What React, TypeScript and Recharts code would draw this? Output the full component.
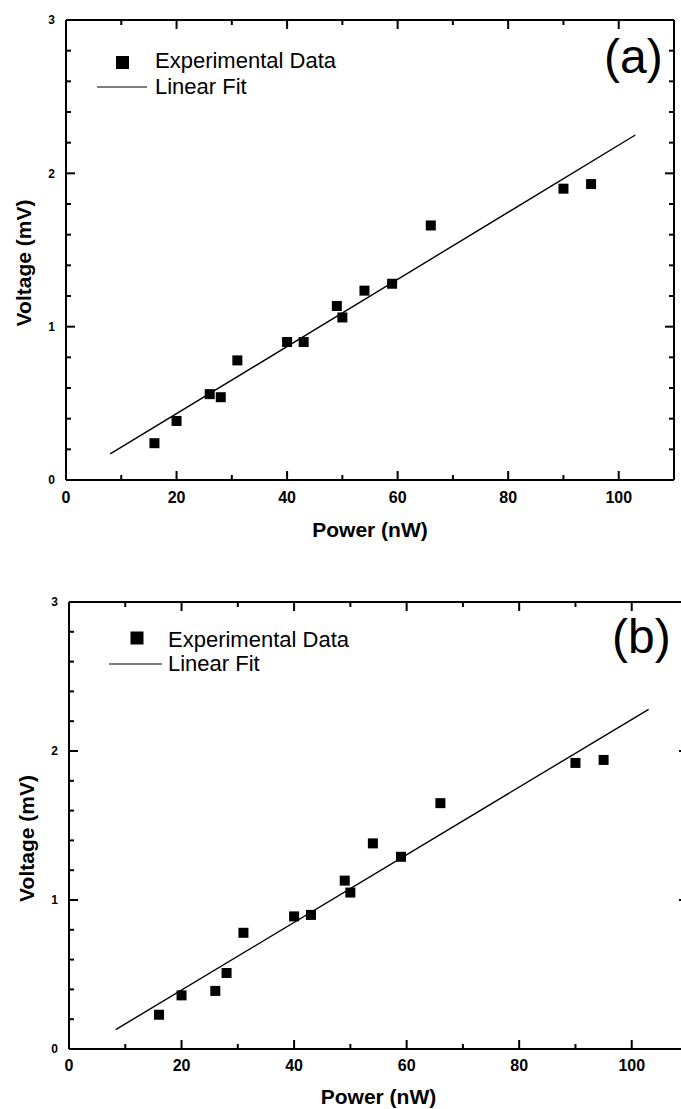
import React from 'react';
import { ScatterChart, Scatter, XAxis, YAxis } from 'recharts';

const FONT = '"Liberation Sans", Arial, Helvetica, sans-serif';

// Panel (a)
const powerA = [16, 20, 26, 28, 31, 40, 43, 49, 50, 54, 59, 66, 90, 95];
const voltageA = [0.24, 0.385, 0.56, 0.54, 0.78, 0.9, 0.9, 1.135, 1.06, 1.235, 1.28, 1.66, 1.9, 1.93];
const fitPowerA = [8, 103];
const fitVoltageA = [0.17, 2.25];

// Panel (b)
const powerB = [16, 20, 26, 28, 31, 40, 43, 49, 50, 54, 59, 66, 90, 95];
const voltageB = [0.23, 0.36, 0.39, 0.51, 0.78, 0.89, 0.9, 1.13, 1.05, 1.38, 1.29, 1.65, 1.92, 1.94];
const fitPowerB = [8.3, 103];
const fitVoltageB = [0.13, 2.28];

// Ticks
const xTickValues = [0, 10, 20, 30, 40, 50, 60, 70, 80, 90, 100];
const xLabelValues = [0, 20, 40, 60, 80, 100];
const yTickValues = [0, 0.2, 0.4, 0.6, 0.8, 1, 1.2, 1.4, 1.6, 1.8, 2, 2.2, 2.4, 2.6, 2.8, 3];
const yLabelValues = [0, 1, 2, 3];
const xDomain = [0, 110];
const yDomain = [0, 3];

const legendLabels = ['Experimental Data', 'Linear Fit'];
const xTitle = 'Power (nW)';
const yTitle = 'Voltage (mV)';

const toPoints = (xs: number[], ys: number[]) => xs.map((x, i) => ({ x, y: ys[i] }));

const MAJOR = 9;
const MINOR = 5;
const TICK_W = 2;
const isMajorX = (v: number) => xLabelValues.includes(v);
const isMajorY = (v: number) => yLabelValues.some((l) => Math.abs(l - v) < 1e-6);
const axisStyle = { stroke: '#000', strokeWidth: 2 };

const BottomTick = (p: any) => {
  const v = p.payload.value;
  const major = isMajorX(v);
  const x = Number(p.x);
  const y = Number(p.y);
  return (
    <g>
      <line x1={x} x2={x} y1={y} y2={y - (major ? MAJOR : MINOR)} stroke="#000" strokeWidth={TICK_W} />
      {major && (
        <text x={x} y={y + p.labelDy} textAnchor="middle" fontSize={16} fontWeight="bold" fontFamily={FONT} fill="#000">
          {v}
        </text>
      )}
    </g>
  );
};

const TopTick = (p: any) => {
  const v = p.payload.value;
  const major = isMajorX(v);
  const x = Number(p.x);
  const y = Number(p.y);
  return <line x1={x} x2={x} y1={y} y2={y + (major ? MAJOR : MINOR)} stroke="#000" strokeWidth={TICK_W} />;
};

const LeftTick = (p: any) => {
  const v = p.payload.value;
  const major = isMajorY(v);
  const x = Number(p.x);
  const y = Number(p.y);
  return (
    <g>
      <line x1={x} x2={x + (major ? MAJOR : MINOR)} y1={y} y2={y} stroke="#000" strokeWidth={TICK_W} />
      {major && (
        <text x={x - 11} y={y} dy="0.36em" textAnchor="end" fontSize={12} fontWeight="bold" fontFamily={FONT} fill="#000">
          {Math.round(v)}
        </text>
      )}
    </g>
  );
};

const RightTick = (p: any) => {
  const v = p.payload.value;
  const major = isMajorY(v);
  const x = Number(p.x);
  const y = Number(p.y);
  return <line x1={x} x2={x - (major ? MAJOR : MINOR)} y1={y} y2={y} stroke="#000" strokeWidth={TICK_W} />;
};

const Square = (p: any) => {
  if (p.cx == null || p.cy == null) return <g />;
  return <rect x={p.cx - 5} y={p.cy - 5} width={10} height={10} fill="#000" />;
};

const NoShape = () => <g />;

type PanelProps = {
  top: number;
  width: number;
  height: number;
  margin: { top: number; right: number; bottom: number; left: number };
  yAxisWidth: number;
  xAxisHeight: number;
  points: { x: number; y: number }[];
  fit: { x: number; y: number }[];
  xLabelDy: number;
  xTitleDy: number;
  yTitleX: number;
  yTitleShift: number;
};

function Panel(props: PanelProps) {
  const { top, width, height, margin, yAxisWidth, xAxisHeight, points, fit, xLabelDy, xTitleDy, yTitleX, yTitleShift } = props;
  return (
    <div style={{ position: 'absolute', left: 0, top }}>
      <ScatterChart width={width} height={height} margin={margin}>
        <XAxis
          xAxisId="bottom"
          type="number"
          dataKey="x"
          domain={xDomain}
          ticks={xTickValues}
          interval={0}
          tickSize={0}
          tickMargin={0}
          tickLine={false}
          axisLine={axisStyle}
          height={xAxisHeight}
          allowDataOverflow
          tick={(p: any) => <BottomTick {...p} labelDy={xLabelDy} />}
          label={{
            content: (lp: any) => {
              const vb = lp.viewBox || {};
              return (
                <text x={vb.x + vb.width / 2} y={vb.y + xTitleDy} textAnchor="middle" fontSize={21} fontWeight="bold" fontFamily={FONT} fill="#000">
                  {xTitle}
                </text>
              );
            },
          }}
        />
        <XAxis
          xAxisId="top"
          orientation="top"
          type="number"
          dataKey="x"
          domain={xDomain}
          ticks={xTickValues}
          interval={0}
          tickSize={0}
          tickMargin={0}
          tickLine={false}
          axisLine={axisStyle}
          height={1}
          allowDataOverflow
          tick={(p: any) => <TopTick {...p} />}
        />
        <YAxis
          yAxisId="left"
          type="number"
          dataKey="y"
          domain={yDomain}
          ticks={yTickValues}
          interval={0}
          tickSize={0}
          tickMargin={0}
          tickLine={false}
          axisLine={axisStyle}
          width={yAxisWidth}
          allowDataOverflow
          tick={(p: any) => <LeftTick {...p} />}
          label={{
            content: (lp: any) => {
              const vb = lp.viewBox || {};
              const cx = yTitleX;
              const cy = vb.y + vb.height / 2 + yTitleShift;
              return (
                <text
                  x={cx}
                  y={cy}
                  transform={`rotate(-90 ${cx} ${cy})`}
                  textAnchor="middle"
                  dy="0.36em"
                  fontSize={21}
                  fontWeight="bold"
                  fontFamily={FONT}
                  fill="#000"
                >
                  {yTitle}
                </text>
              );
            },
          }}
        />
        <YAxis
          yAxisId="right"
          orientation="right"
          type="number"
          dataKey="y"
          domain={yDomain}
          ticks={yTickValues}
          interval={0}
          tickSize={0}
          tickMargin={0}
          tickLine={false}
          axisLine={axisStyle}
          width={1}
          allowDataOverflow
          tick={(p: any) => <RightTick {...p} />}
        />
        <Scatter
          data={fit}
          xAxisId="top"
          yAxisId="right"
          line={{ stroke: '#000', strokeWidth: 1.4 }}
          lineType="joint"
          shape={NoShape}
          isAnimationActive={false}
        />
        <Scatter data={points} xAxisId="bottom" yAxisId="left" shape={Square} isAnimationActive={false} />
      </ScatterChart>
    </div>
  );
}

function LegendOverlay() {
  const t = { fontFamily: FONT, fill: '#000' };
  return (
    <svg width={681} height={1109} style={{ position: 'absolute', left: 0, top: 0, pointerEvents: 'none' }}>
      {/* panel (a) */}
      <rect x={116} y={56} width={13} height={13} fill="#000" />
      <text x={155} y={68} fontSize={22} {...t}>{legendLabels[0]}</text>
      <line x1={97} x2={147} y1={87} y2={87} stroke="#000" strokeWidth={1.2} />
      <text x={155} y={94} fontSize={22} {...t}>{legendLabels[1]}</text>
      <text x={604} y={73} fontSize={48} {...t}>(a)</text>
      {/* panel (b) */}
      <rect x={130.5} y={631.5} width={13} height={13} fill="#000" />
      <text x={168} y={647} fontSize={22} {...t}>{legendLabels[0]}</text>
      <line x1={109} x2={162} y1={664} y2={664} stroke="#000" strokeWidth={1.2} />
      <text x={168} y={671} fontSize={22} {...t}>{legendLabels[1]}</text>
      <text x={612} y={653} fontSize={48} {...t}>(b)</text>
    </svg>
  );
}

export default function App() {
  return (
    <div style={{ position: 'absolute', left: 0, top: 0, width: 681, height: 1109, overflow: 'hidden', background: '#fff' }}>
      <Panel
        top={0}
        width={681}
        height={560}
        margin={{ top: 19, right: 6, bottom: 0, left: 0 }}
        yAxisWidth={66}
        xAxisHeight={80}
        points={toPoints(powerA, voltageA)}
        fit={toPoints(fitPowerA, fitVoltageA)}
        xLabelDy={23}
        xTitleDy={57}
        yTitleX={23}
        yTitleShift={13}
      />
      <Panel
        top={560}
        width={700}
        height={549}
        margin={{ top: 41, right: 11, bottom: 0, left: 0 }}
        yAxisWidth={69}
        xAxisHeight={60}
        points={toPoints(powerB, voltageB)}
        fit={toPoints(fitPowerB, fitVoltageB)}
        xLabelDy={22}
        xTitleDy={55}
        yTitleX={26}
        yTitleShift={13}
      />
      <LegendOverlay />
    </div>
  );
}
